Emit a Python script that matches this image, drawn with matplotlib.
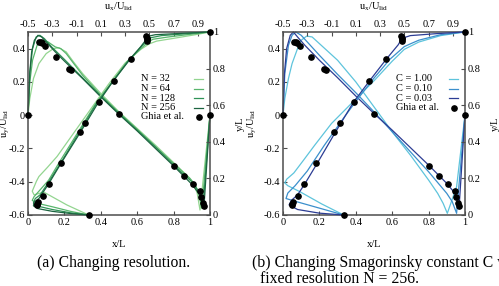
import matplotlib
matplotlib.use("Agg")
import matplotlib.pyplot as plt

plt.rcParams['font.family'] = ['Liberation Serif', 'DejaVu Serif']
plt.rcParams['mathtext.fontset'] = 'custom'
plt.rcParams['mathtext.rm'] = 'Liberation Serif'

# Ghia et al. (Re = 10000) reference points
ghia_y = [1.0, 0.9766, 0.9688, 0.9609, 0.9531, 0.8516, 0.7344, 0.6172, 0.5, 0.4531,
          0.2813, 0.1719, 0.1016, 0.0703, 0.0625, 0.0547, 0.0]
ghia_u = [1.0, 0.47221, 0.47783, 0.48070, 0.47804, 0.34635, 0.20673, 0.08344, -0.03111,
          -0.07540, -0.23186, -0.32709, -0.38000, -0.41657, -0.42537, -0.42735, 0.0]
ghia_x = [1.0, 0.9688, 0.9609, 0.9531, 0.9453, 0.9063, 0.8594, 0.8047, 0.5, 0.2344,
          0.2266, 0.1563, 0.0938, 0.0781, 0.0703, 0.0625, 0.0]
ghia_v = [0.0, -0.54302, -0.52987, -0.49099, -0.45863, -0.41496, -0.36737, -0.30719,
          0.00831, 0.27224, 0.28003, 0.35070, 0.41487, 0.43124, 0.43733, 0.43983, 0.0]

# (a) resolution study: u_y along x, u_x along y
res_labels = ["N = 32", "N = 64", "N = 128", "N = 256"]
res_colors = ["#93d590", "#58b56c", "#2f9357", "#1c6440"]

res_vx = [
    [0, 0.01, 0.03, 0.06, 0.1, 0.14, 0.17, 0.21, 0.25, 0.3, 0.4, 0.5, 0.6, 0.7, 0.8, 0.88, 0.91, 0.93, 0.945, 1.0],
    [0, 0.01, 0.025, 0.05, 0.08, 0.11, 0.15, 0.18, 0.21, 0.3, 0.4, 0.5, 0.6, 0.7, 0.8, 0.89, 0.92, 0.94, 0.955, 1.0],
    [0, 0.01, 0.025, 0.045, 0.065, 0.09, 0.13, 0.2, 0.3, 0.4, 0.5, 0.6, 0.7, 0.8, 0.9, 0.94, 0.962, 1.0],
    [0, 0.01, 0.02, 0.035, 0.055, 0.075, 0.1, 0.15, 0.2, 0.3, 0.4, 0.5, 0.6, 0.7, 0.8, 0.9, 0.945, 0.967, 1.0],
]
res_vv = [
    [0, 0.1, 0.22, 0.31, 0.37, 0.40, 0.405, 0.38, 0.32, 0.25, 0.13, 0.02, -0.08, -0.18, -0.285, -0.37, -0.41, -0.47, -0.57, 0],
    [0, 0.2, 0.33, 0.42, 0.45, 0.44, 0.41, 0.40, 0.37, 0.24, 0.12, 0.015, -0.085, -0.19, -0.29, -0.38, -0.42, -0.48, -0.56, 0],
    [0, 0.25, 0.40, 0.47, 0.48, 0.46, 0.41, 0.335, 0.225, 0.115, 0.01, -0.09, -0.19, -0.30, -0.40, -0.46, -0.55, 0],
    [0, 0.26, 0.38, 0.45, 0.48, 0.47, 0.44, 0.38, 0.325, 0.22, 0.11, 0.005, -0.095, -0.20, -0.305, -0.415, -0.48, -0.55, 0],
]
res_uu = [
    [0, -0.18, -0.37, -0.45, -0.465, -0.43, -0.41, -0.34, -0.26, -0.11, 0.04, 0.17, 0.30, 0.43, 0.50, 0.56, 0.70, 0.88, 1.0],
    [0, -0.15, -0.30, -0.43, -0.465, -0.45, -0.41, -0.33, -0.24, -0.09, 0.06, 0.19, 0.32, 0.44, 0.49, 0.53, 0.65, 0.85, 1.0],
    [0, -0.15, -0.30, -0.43, -0.455, -0.44, -0.40, -0.33, -0.23, -0.08, 0.07, 0.20, 0.33, 0.44, 0.48, 0.51, 0.60, 0.80, 1.0],
    [0, -0.15, -0.30, -0.42, -0.455, -0.45, -0.41, -0.33, -0.23, -0.07, 0.08, 0.20, 0.34, 0.43, 0.47, 0.48, 0.55, 0.70, 1.0],
]
res_uy = [
    [0, 0.055, 0.125, 0.11, 0.13, 0.185, 0.21, 0.26, 0.32, 0.46, 0.6, 0.72, 0.83, 0.905, 0.935, 0.95, 0.965, 0.985, 1.0],
    [0, 0.02, 0.045, 0.065, 0.08, 0.10, 0.13, 0.19, 0.29, 0.45, 0.61, 0.725, 0.84, 0.915, 0.945, 0.96, 0.972, 0.988, 1.0],
    [0, 0.012, 0.03, 0.05, 0.065, 0.09, 0.11, 0.18, 0.285, 0.45, 0.615, 0.73, 0.845, 0.925, 0.95, 0.968, 0.98, 0.99, 1.0],
    [0, 0.008, 0.02, 0.035, 0.05, 0.07, 0.09, 0.17, 0.28, 0.45, 0.615, 0.73, 0.85, 0.92, 0.955, 0.975, 0.985, 0.99, 1.0],
]

# (b) Smagorinsky constant study
smag_labels = ["C = 1.00", "C = 0.10", "C = 0.03"]
smag_colors = ["#5ec4dc", "#3b8fcc", "#2c3d94"]

smag_vx = [
    [0, 0.01, 0.03, 0.05, 0.08, 0.1, 0.13, 0.16, 0.2, 0.3, 0.4, 0.5, 0.6, 0.7, 0.8, 0.85, 0.88, 0.903, 0.954, 1.0],
    [0, 0.01, 0.03, 0.05, 0.07, 0.1, 0.15, 0.2, 0.3, 0.4, 0.5, 0.6, 0.7, 0.8, 0.9, 0.93, 0.954, 1.0],
    [0, 0.008, 0.02, 0.04, 0.057, 0.08, 0.12, 0.2, 0.3, 0.4, 0.5, 0.6, 0.7, 0.8, 0.9, 0.945, 0.968, 1.0],
]
smag_vv = [
    [0, 0.1, 0.22, 0.31, 0.40, 0.45, 0.475, 0.47, 0.43, 0.33, 0.20, 0.05, -0.10, -0.24, -0.39, -0.47, -0.53, -0.59, -0.43, 0],
    [0, 0.25, 0.42, 0.48, 0.50, 0.48, 0.42, 0.36, 0.245, 0.135, 0.02, -0.10, -0.22, -0.34, -0.47, -0.52, -0.59, 0],
    [0, 0.25, 0.40, 0.48, 0.50, 0.47, 0.42, 0.33, 0.225, 0.115, 0.01, -0.09, -0.195, -0.30, -0.41, -0.47, -0.55, 0],
]
smag_uu = [
    [0, -0.18, -0.36, -0.46, -0.485, -0.47, -0.41, -0.33, -0.24, -0.10, 0.05, 0.26, 0.40, 0.50, 0.56, 0.62, 0.80, 1.0],
    [0, -0.24, -0.40, -0.475, -0.46, -0.40, -0.30, -0.16, 0.0, 0.10, 0.24, 0.38, 0.50, 0.55, 0.62, 0.80, 1.0],
    [0, -0.20, -0.38, -0.45, -0.43, -0.38, -0.32, -0.22, -0.07, 0.08, 0.21, 0.35, 0.45, 0.48, 0.55, 0.75, 1.0],
]
smag_uy = [
    [0, 0.06, 0.127, 0.16, 0.175, 0.195, 0.23, 0.30, 0.38, 0.50, 0.60, 0.74, 0.84, 0.905, 0.925, 0.945, 0.98, 1.0],
    [0, 0.045, 0.075, 0.09, 0.12, 0.16, 0.24, 0.38, 0.53, 0.62, 0.74, 0.85, 0.92, 0.935, 0.955, 0.985, 1.0],
    [0, 0.01, 0.03, 0.055, 0.08, 0.11, 0.17, 0.28, 0.45, 0.615, 0.73, 0.85, 0.93, 0.965, 0.98, 0.99, 1.0],
]

spine_col = "#4d4d4d"
fs = 7.5


def style_axis(ax):
    for s in ax.spines.values():
        s.set_color(spine_col)
        s.set_linewidth(1.1)
    ax.tick_params(direction="in", length=3, width=0.8, color=spine_col, labelsize=fs, pad=2)


def draw_panel(left, labels, colors, vx, vv, uu, uy, ylab_x, caption_lines):
    pos = [left, 0.2483, 0.3647, 0.640]
    ax = fig.add_axes(pos)
    ax2 = fig.add_axes(pos, frameon=False)
    ax2.patch.set_alpha(0)

    ax.set_xlim(0, 1)
    ax.set_ylim(-0.6, 0.5)
    ax.set_xticks([0, 0.2, 0.4, 0.6, 0.8, 1])
    ax.set_xticklabels(["0", "0.2", "0.4", "0.6", "0.8", "1"])
    ax.set_yticks([-0.6, -0.4, -0.2, 0, 0.2, 0.4])
    ax.set_yticklabels(["-0.6", "-0.4", "-0.2", "0", "0.2", "0.4"])
    ax.tick_params(top=False, right=False)
    style_axis(ax)
    ax.set_xlabel("x/L", fontsize=fs)
    ax.xaxis.set_label_coords(0.5, -0.137)
    ax.set_ylabel(r"u$_\mathrm{y}$/U$_\mathrm{lid}$", fontsize=fs)
    ax.yaxis.set_label_coords(ylab_x, 0.5)

    ax2.set_xlim(-0.5, 1)
    ax2.set_ylim(0, 1)
    ax2.xaxis.tick_top()
    ax2.xaxis.set_label_position("top")
    ax2.yaxis.tick_right()
    ax2.yaxis.set_label_position("right")
    ax2.set_xticks([-0.5, -0.3, -0.1, 0.1, 0.3, 0.5, 0.7, 0.9])
    ax2.set_xticklabels(["-0.5", "-0.3", "-0.1", "0.1", "0.3", "0.5", "0.7", "0.9"])
    ax2.set_yticks([0, 0.2, 0.4, 0.6, 0.8, 1])
    ax2.set_yticklabels(["0", "0.2", "0.4", "0.6", "0.8", "1"])
    style_axis(ax2)
    ax2.set_xlabel(r"u$_\mathrm{x}$/U$_\mathrm{lid}$", fontsize=fs)
    ax2.xaxis.set_label_coords(0.5, 1.125)
    ax2.set_ylabel("y/L", fontsize=fs)
    ax2.yaxis.set_label_coords(1.14, 0.5)

    for i in range(len(labels)):
        ax.plot(vx[i], vv[i], color=colors[i], lw=0.9, clip_on=False)
        ax2.plot(uu[i], uy[i], color=colors[i], lw=0.9, clip_on=False)
    ax.plot(ghia_x, ghia_v, "o", color="black", ms=3.8, clip_on=False, zorder=5)
    ax2.plot(ghia_u, ghia_y, "o", color="black", ms=3.8, clip_on=False, zorder=5)

    # legend, gnuplot style: text left, sample right
    rows = [0.743, 0.691, 0.639, 0.587, 0.536]
    for i in range(len(labels)):
        ax.text(0.621, rows[i], labels[i], transform=ax.transAxes, fontsize=fs,
                va="center", ha="left")
        ax.plot([0.912, 0.962], [rows[i], rows[i]], transform=ax.transAxes,
                color=colors[i], lw=0.9)
    r = rows[len(labels)]
    ax.text(0.621, r, "Ghia et al.", transform=ax.transAxes, fontsize=fs, va="center", ha="left")
    ax.plot([0.94], [r], "o", color="black", ms=3.8, transform=ax.transAxes)

    for j, line in enumerate(caption_lines):
        fig.text(line[1], 0.08 - j * 0.054, line[0], fontsize=11.3, ha="left", va="center")


fig = plt.figure(figsize=(4.99, 2.86), dpi=100)
draw_panel(0.0561, res_labels, res_colors, res_vx, res_vv, res_uu, res_uy, -0.09,
           [("(a) Changing resolution.", 0.074)])
draw_panel(0.5671, smag_labels, smag_colors, smag_vx, smag_vv, smag_uu, smag_uy, -0.13,
           [("(b) Changing Smagorinsky constant C with", 0.505),
            ("fixed resolution N = 256.", 0.521)])

fig.savefig("out.png", dpi=100)
